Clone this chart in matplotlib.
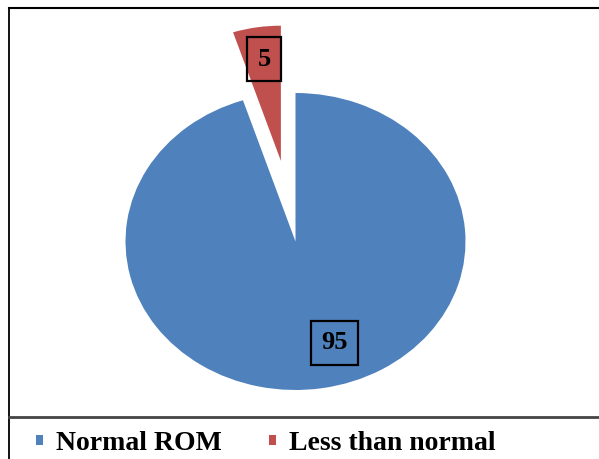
import matplotlib
matplotlib.use("Agg")
import matplotlib.pyplot as plt
from matplotlib.lines import Line2D

# ROM results (percent of subjects)
categories = ["Normal ROM", "Less than normal"]
values = [95, 5]
colors = ["#4F81BD", "#C0504D"]

plt.rcParams['font.family'] = ['Liberation Serif', 'DejaVu Serif']

fig = plt.figure(figsize=(5.99, 4.59), dpi=100)
ax = fig.add_axes([0, 0, 1, 1])

wedges, _ = ax.pie(values, colors=colors, startangle=90, counterclock=False,
                   explode=[0, 0.55], wedgeprops=dict(linewidth=0))
wedges[1].set_radius(0.91)

# slightly wider than tall, like the original sheet
ax.set_aspect('auto')
ax.set_xlim(-295.5 / 170, 303.5 / 170)
ax.set_ylim(-217.5 / 148.5, 241.5 / 148.5)
ax.axis('off')

# value labels in black boxes
label_pos = [(0.229, -0.683), (-0.185, 1.226)]
for v, (x, y) in zip(values, label_pos):
    ax.text(x, y, str(v), ha='center', va='center', fontsize=19,
            fontweight='bold', color='black',
            bbox=dict(boxstyle='square,pad=0.4', fc='none', ec='black', lw=1.6))

# frame lines around the chart area
fig.add_artist(Line2D([0.015, 0.015], [0, 0.9826], color='black', lw=1.3,
                      transform=fig.transFigure))
fig.add_artist(Line2D([0.015, 1], [0.9826, 0.9826], color='black', lw=1.5,
                      transform=fig.transFigure))
fig.add_artist(Line2D([0.015, 1], [0.0915, 0.0915], color='#444444', lw=2,
                      transform=fig.transFigure))

fig.legend(wedges, categories, loc='center', bbox_to_anchor=(0.443, 0.034),
           ncol=2, frameon=False, handlelength=0.27, handleheight=0.2,
           handletextpad=0.45, columnspacing=1.7,
           prop=dict(size=20, weight='bold'))

fig.savefig("out.png", dpi=100)
